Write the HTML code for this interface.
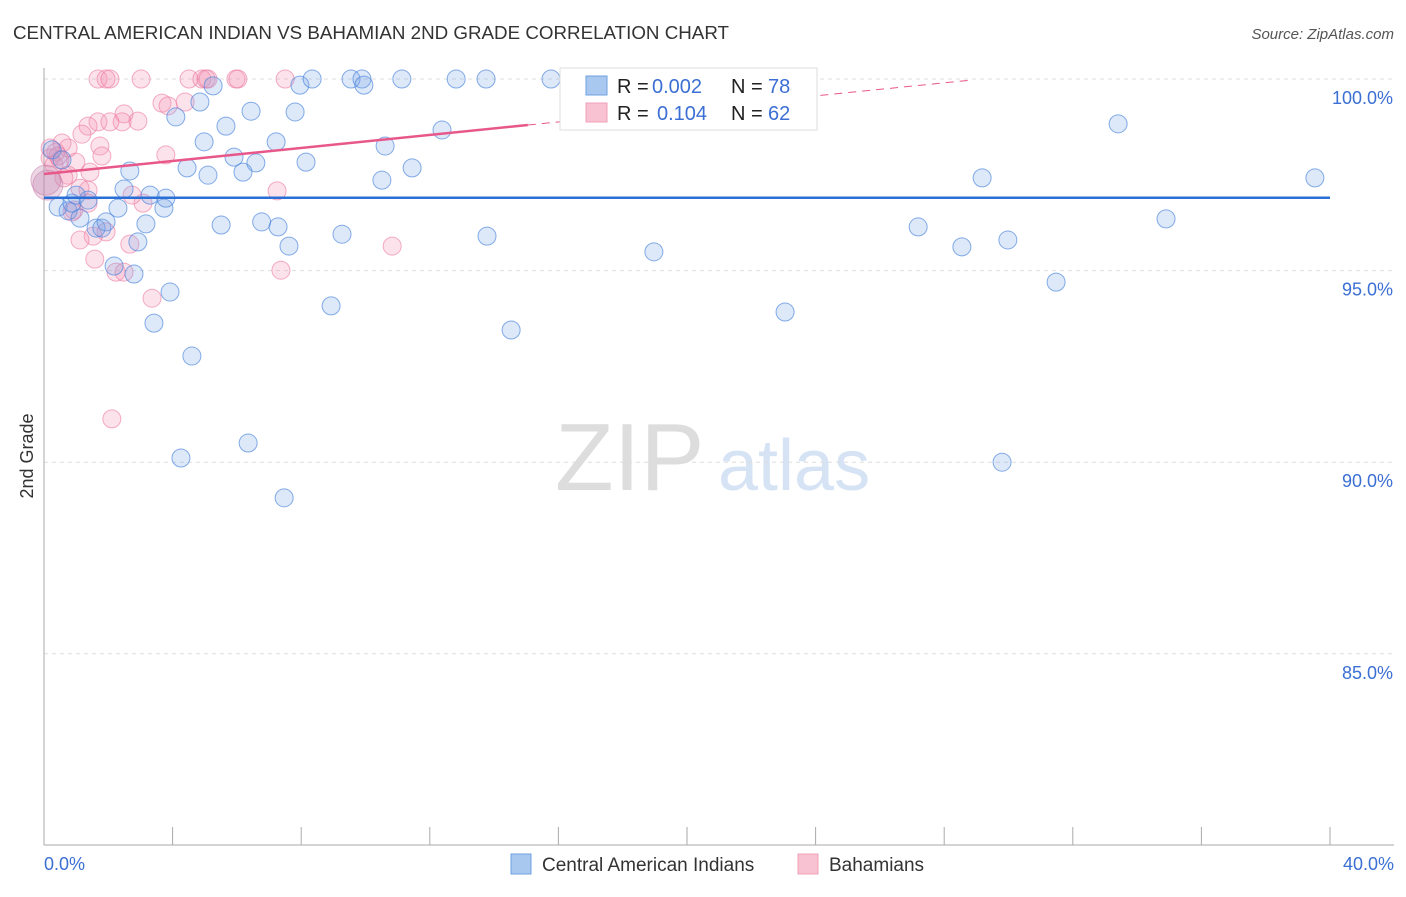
<!DOCTYPE html>
<html><head><meta charset="utf-8"><style>
body{margin:0;background:#fff;font-family:"Liberation Sans",sans-serif}
svg text{font-family:"Liberation Sans",sans-serif}
</style></head><body>
<svg id="c" width="1406" height="892">
<text x="13" y="39" font-size="18" fill="#333" textLength="716" lengthAdjust="spacingAndGlyphs">CENTRAL AMERICAN INDIAN VS BAHAMIAN 2ND GRADE CORRELATION CHART</text>
<text x="1394" y="39" font-size="15" fill="#555" font-style="italic" text-anchor="end">Source: ZipAtlas.com</text>
<text x="33" y="456" font-size="18" fill="#333" transform="rotate(-90 33 456)" text-anchor="middle">2nd Grade</text>
<text x="555" y="490" font-size="96" fill="#ddd" font-family="Liberation Serif">ZIP</text>
<text x="718" y="490" font-size="72" fill="#d6e3f5">atlas</text>
<g id="grid"></g><g id="pts"></g><g id="trend"></g>
<g>
<rect x="560" y="68" width="257" height="62" fill="#fff" stroke="#ddd"/>
<rect x="586" y="76" width="21" height="19" fill="#a9c8f0" stroke="#6fa0e0"/>
<text x="617" y="93" font-size="20" fill="#222">R =</text>
<text x="652" y="93" font-size="20" fill="#3b6fd4">0.002</text>
<text x="731" y="93" font-size="20" fill="#222">N =</text>
<text x="768" y="93" font-size="20" fill="#3b6fd4">78</text>
<rect x="586" y="103" width="21" height="19" fill="#f8c2d2" stroke="#f0a0b8"/>
<text x="617" y="120" font-size="20" fill="#222">R =</text>
<text x="657" y="120" font-size="20" fill="#3b6fd4">0.104</text>
<text x="731" y="120" font-size="20" fill="#222">N =</text>
<text x="768" y="120" font-size="20" fill="#3b6fd4">62</text>
</g>
<g>
<rect x="511" y="854" width="20" height="20" fill="#a9c8f0" stroke="#6fa0e0"/>
<text x="542" y="871" font-size="19" fill="#333">Central American Indians</text>
<rect x="798" y="854" width="20" height="20" fill="#f8c2d2" stroke="#f0a0b8"/>
<text x="829" y="871" font-size="19" fill="#333">Bahamians</text>
</g>
</svg>
<script>
const xTicks=[0,4,8,12,16,20,24,28,32,36,40];
const yTicks=[85,90,95,100];
const blueX=[0.44,0.75,0.87,1.12,1.0,1.37,1.62,1.8,1.93,2.3,2.49,2.67,2.18,2.8,2.92,3.17,3.3,3.73,3.79,3.42,3.92,4.1,4.26,4.45,4.6,4.85,4.98,5.1,5.26,5.51,5.66,5.91,6.19,6.35,6.44,6.59,6.77,7.22,7.28,7.47,7.62,7.81,7.96,8.15,8.34,8.93,9.27,9.55,9.89,9.95,10.51,10.61,11.13,11.45,12.38,12.82,13.78,13.75,14.53,15.77,17.29,18.16,18.97,22.27,23.05,27.19,28.55,29.18,29.8,29.98,31.48,33.41,34.9,39.53,0.25,0.56];
const blueY=[96.66,96.56,96.76,96.37,96.97,96.84,96.11,96.11,96.27,96.63,97.13,97.6,95.12,94.91,95.75,96.22,96.97,96.63,96.89,93.63,94.44,99.01,90.11,97.68,92.77,99.4,98.36,97.49,99.82,96.19,98.77,97.96,97.57,90.5,99.16,97.81,96.27,98.36,96.14,89.07,95.64,99.14,99.84,97.83,100,94.08,95.95,100,100,99.84,97.36,98.25,100,97.68,98.67,100,95.9,100,93.45,100,99.92,100,95.49,100,93.92,96.14,95.62,97.42,90.0,95.8,94.7,98.83,96.35,97.42,98.15,97.89];
const pinkX=[1.68,1.93,2.05,3.02,4.51,4.91,5.04,5.1,5.97,6.03,7.5,3.67,3.86,4.39,2.49,2.43,2.92,1.68,2.05,1.37,1.18,0.56,0.75,1.74,1.8,3.79,0.99,0.37,0.19,0.5,1.43,0.75,1.37,1.12,7.25,2.74,3.08,0.87,1.37,1.93,1.53,1.12,2.67,1.58,2.24,2.49,7.37,10.83,3.36,2.11,0.19,0.31,0.44,0.62,0.93];
const pinkY=[100,100,100,100,100,100,100,100,100,100,100,99.37,99.3,99.4,99.09,98.88,98.9,98.88,98.88,98.77,98.56,98.33,98.2,98.25,97.99,98.02,97.83,98.09,97.94,97.89,97.57,97.49,97.1,97.15,97.08,96.97,96.76,96.53,96.76,96.01,95.9,95.8,95.69,95.3,94.96,94.96,95.01,95.64,94.28,91.13,98.2,97.76,97.99,97.42,96.58];
const bigX=[0.12,0.06];const bigY=[97.23,97.36];
const blueTrend=[96.9,0.0];const pinkTrend=[97.52,0.085];
const X=v=>44+v/40*1286, Y=v=>79+(100-v)*38.32;
const NS='http://www.w3.org/2000/svg';
function mk(p,tag,a){const e=document.createElementNS(NS,tag);for(const k in a)e.setAttribute(k,a[k]);p.appendChild(e);return e;}
const g=document.getElementById('grid');
yTicks.forEach(t=>{const l=mk(g,'line',{x1:44,x2:1394,y1:Y(t),y2:Y(t),stroke:'#ddd','stroke-dasharray':'4 4'});


const tx=mk(g,'text',{x:1393,y:Y(t)+25,'font-size':18,fill:'#3b6fd4','text-anchor':'end'});tx.textContent=t.toFixed(1)+'%';

});
mk(g,'line',{x1:44,x2:44,y1:68,y2:845,stroke:'#aaa'});
mk(g,'line',{x1:44,x2:1394,y1:845,y2:845,stroke:'#aaa'});
xTicks.forEach(t=>{const l=mk(g,'line',{x1:X(t),x2:X(t),y1:827,y2:845,stroke:'#aaa'});

});
[[0,'0.0%','start',44],[40,'40.0%','end',1394]].forEach(a=>{const tx=mk(g,'text',{x:a[3],y:870,'font-size':18,fill:'#3b6fd4','text-anchor':a[2]});tx.textContent=a[1];

});
const p=document.getElementById('pts');
pinkX.forEach((v,i)=>{const c=mk(p,'circle',{cx:X(v),cy:Y(pinkY[i]),r:9,fill:'rgba(244,143,177,0.25)',stroke:'rgba(236,120,160,0.6)'});

});
blueX.forEach((v,i)=>{const c=mk(p,'circle',{cx:X(v),cy:Y(blueY[i]),r:9,fill:'rgba(120,165,230,0.25)',stroke:'rgba(70,130,220,0.65)'});

});
bigX.forEach((v,i)=>{const c=mk(p,'circle',{cx:X(v),cy:Y(bigY[i]),r:15,fill:'rgba(200,140,180,0.35)',stroke:'rgba(200,120,170,0.5)'});

});
const t=document.getElementById('trend');
let l=mk(t,'line',{x1:X(0),x2:X(40),y1:Y(blueTrend[0]),y2:Y(blueTrend[0]+40*blueTrend[1]),stroke:'#2a6fd6','stroke-width':2.5});


l=mk(t,'line',{x1:X(0),x2:X(15.05),y1:Y(pinkTrend[0]),y2:Y(pinkTrend[0]+15.05*pinkTrend[1]),stroke:'#e8578a','stroke-width':2.5});


l=mk(t,'line',{x1:X(15.05),x2:X(28.8),y1:Y(pinkTrend[0]+15.05*pinkTrend[1]),y2:Y(pinkTrend[0]+28.8*pinkTrend[1]),stroke:'#e8578a','stroke-width':1,'stroke-dasharray':'8 6'});


</script>
</body></html>
